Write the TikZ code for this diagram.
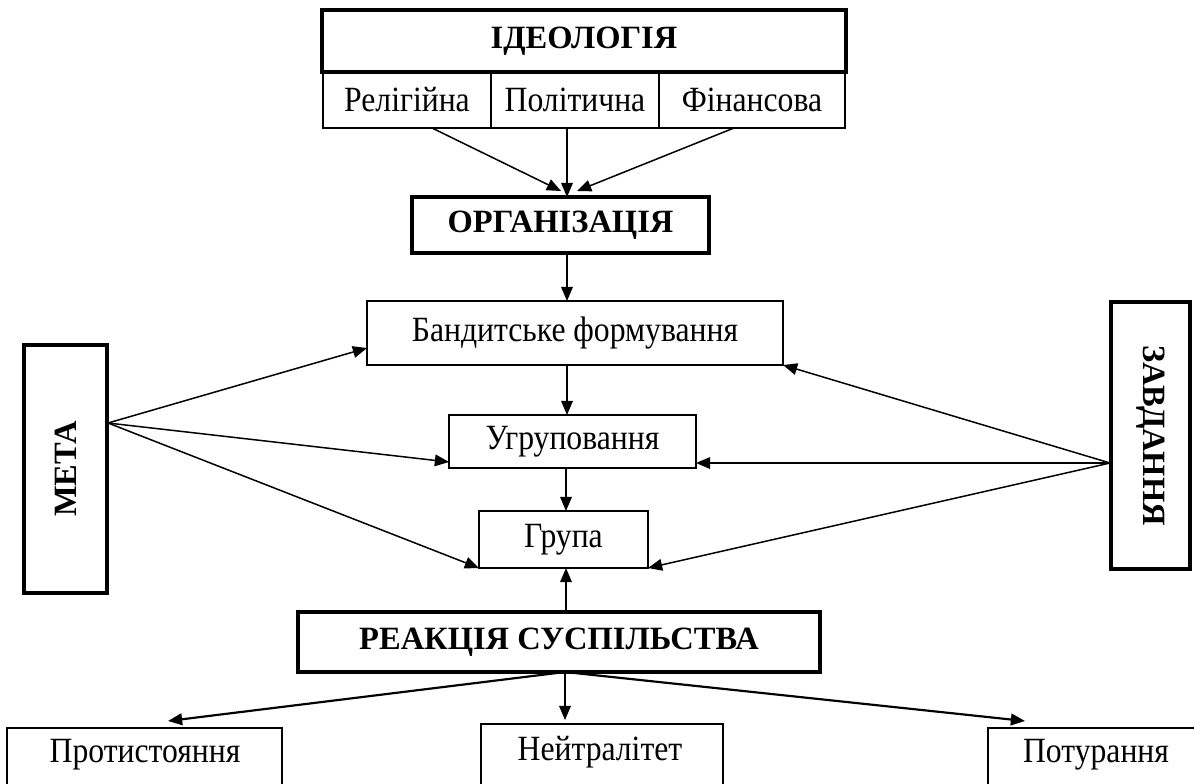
\documentclass[tikz,border=0pt]{standalone}
\usepackage{fontspec}
\setmainfont{Liberation Serif}
\usetikzlibrary{arrows.meta,calc}

% regular labels are set slightly taller than the plain font
\newcommand{\tallText}[1]{\scalebox{1}[1.12]{#1}}

\tikzset{
  base/.style={inner sep=0pt, outer sep=0pt, anchor=center},
  heavybox/.style={base, draw, line width=2.4pt},
  lightbox/.style={base, draw, line width=0.9pt},
  label/.style={base, font=\fontsize{19}{23}\selectfont},
  title/.style={base, font=\fontsize{19.5}{23}\selectfont\bfseries},
  arr/.style={line width=0.9pt, -{Triangle[length=8.5pt,width=7pt]}},
  heavyarr/.style={line width=1.3pt, -{Triangle[length=8.5pt,width=7pt]}}
}

\begin{document}
\begin{tikzpicture}[x=0.6pt, y=-0.6pt]
  \useasboundingbox (0,0) rectangle (1194,783);
  \clip (0,0) rectangle (1194,783);

  % ideology block with its three kinds
  \node[heavybox, title, minimum width=314.4pt, minimum height=37.2pt] (ideo) at (584,41) {ІДЕОЛОГІЯ};
  \node[lightbox, label, minimum width=100.8pt, minimum height=33.6pt] (rel) at (407,100) {\tallText{Релігійна}};
  \node[lightbox, label, minimum width=100.8pt, minimum height=33.6pt] (pol) at (575,100) {\tallText{Політична}};
  \node[lightbox, label, minimum width=111.6pt, minimum height=33.6pt] (fin) at (752,100) {\tallText{Фінансова}};

  % central chain
  \node[heavybox, title, minimum width=178.2pt, minimum height=33.6pt] (org) at (560.5,225) {ОРГАНІЗАЦІЯ};
  \node[lightbox, label, minimum width=249.6pt, minimum height=38.4pt] (band) at (575,333) {\tallText{Бандитське формування}};
  \node[lightbox, label, minimum width=148.2pt, minimum height=31.8pt] (ugr) at (572.5,441.5) {\tallText{Угруповання}};
  \node[lightbox, label, minimum width=101.4pt, minimum height=34.2pt] (grupa) at (563.5,539.5) {\tallText{Група}};
  \node[heavybox, title, minimum width=313.2pt, minimum height=36pt] (reak) at (559,642) {РЕАКЦІЯ СУСПІЛЬСТВА};

  % side blocks
  \node[heavybox, minimum width=49.8pt, minimum height=148.8pt] (meta) at (65.5,469) {};
  \node[title, rotate=90] (metaT) at (meta.center) {МЕТА};
  \node[heavybox, minimum width=47.4pt, minimum height=160.2pt] (zavd) at (1150.5,435.5) {};
  \node[title, rotate=-90] (zavdT) at (zavd.center) {ЗАВДАННЯ};

  % reactions of society
  \node[lightbox, minimum width=165pt, minimum height=60pt] (prot) at (144.5,778) {};
  \node[label] (protT) at (145,755) {\tallText{Протистояння}};
  \node[lightbox, minimum width=145.2pt, minimum height=60pt] (neut) at (602,774) {};
  \node[label] (neutT) at (600,752) {\tallText{Нейтралітет}};
  \node[lightbox, minimum width=145.2pt, minimum height=60pt] (potur) at (1109,778) {};
  \node[label] (poturT) at (1096,755) {\tallText{Потурання}};

  % sources of the arrows
  \coordinate (mo) at (108,423);
  \coordinate (zo) at (1110,463);
  \coordinate (ro) at (565,672);

  % ideology -> organisation
  \draw[arr] (432,0 |- rel.south) -- (561,191);
  \draw[arr] (567,0 |- pol.south) -- (567,0 |- org.north);
  \draw[arr] (734,0 |- fin.south) -- (577,191);

  % chain
  \draw[arr] (567,0 |- org.south) -- (567,0 |- band.north);
  \draw[arr] (567,0 |- band.south) -- (567,0 |- ugr.north);
  \draw[arr] (566,0 |- ugr.south) -- (566,0 |- grupa.north);
  \draw[arr] (566,0 |- reak.north) -- (566,0 |- grupa.south);

  % goal
  \draw[arr] (mo) -- (band.west |- 0,348);
  \draw[arr] (mo) -- (ugr.west |- 0,462);
  \draw[arr] (mo) -- (grupa.south west);

  % tasks
  \draw[arr] (zo) -- (band.south east);
  \draw[arr] (zo) -- (ugr.east |- zo);
  \draw[arr] (zo) -- (grupa.south east);

  % reactions
  \draw[heavyarr] (ro) -- (168,721);
  \draw[arr] (ro) -- (565,720);
  \draw[heavyarr] (ro) -- (1025,721);
\end{tikzpicture}
\end{document}
